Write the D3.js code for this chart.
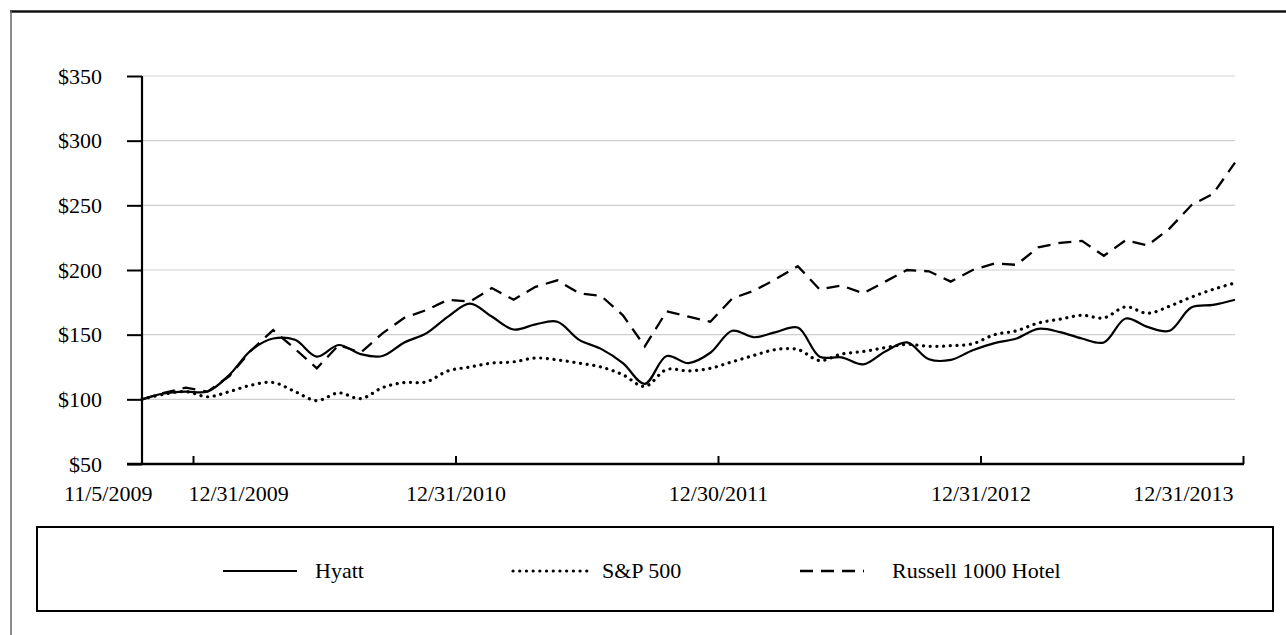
<!DOCTYPE html>
<html>
<head>
<meta charset="utf-8">
<script src="https://cdn.jsdelivr.net/npm/d3@7"></script>
<style>
  html, body { margin: 0; padding: 0; background: #fff; }
  svg { display: block; }
  text { font-family: "Liberation Serif", "Times New Roman", serif; fill: #000; }
</style>
</head>
<body>
<svg id="chart" width="1286" height="635"></svg>
<script>
// ---------- data ----------
const dates = [
  "2009-11-05","2009-11-30","2009-12-31",
  "2010-01-31","2010-02-28","2010-03-31","2010-04-30","2010-05-31","2010-06-30",
  "2010-07-31","2010-08-31","2010-09-30","2010-10-31","2010-11-30","2010-12-31",
  "2011-01-31","2011-02-28","2011-03-31","2011-04-30","2011-05-31","2011-06-30",
  "2011-07-31","2011-08-31","2011-09-30","2011-10-31","2011-11-30","2011-12-30",
  "2012-01-31","2012-02-29","2012-03-31","2012-04-30","2012-05-31","2012-06-30",
  "2012-07-31","2012-08-31","2012-09-30","2012-10-31","2012-11-30","2012-12-31",
  "2013-01-31","2013-02-28","2013-03-31","2013-04-30","2013-05-31","2013-06-30",
  "2013-07-31","2013-08-31","2013-09-30","2013-10-31","2013-11-30","2013-12-31"
];
const hyatt = [100,104.5,106,106,119,138,147,146,133,142,135,133.5,144,151,164,174,164,154,158,160,
  146,139,128,112,133.5,128,136,153,148,152,155.5,133,132.5,127,137,144,131,130.5,138,143.5,
  147,154.5,152,147,144,162.5,156,153,171,173,177];
const sp500 = [100,104,106,102,106,111,113,106,99,105,100.5,109,113,113.5,122,125,128,129,132,130.5,
  128,125,119,110,123,122,124,129,134,138.5,138.5,130,135,137,140,142.5,141,141.5,143,150,
  153,159,162,165,163,171.5,166.5,172,179,185,190];
const russell = [100,105,109,106,118,138,153.5,139,124,142,136,151,163,169,177,175.5,186,177,187,192,
  182,180,165,141,168,164,160,178,184,193,203,185,188,182,191,200,199,191,200,205,
  204,217.5,221,222.5,211,223,219,232,250,259,283];
const seriesNames = ["Hyatt", "S&P 500", "Russell 1000 Hotel"];
const yTicks = [50,100,150,200,250,300,350];
const xTickIndex = [0,2,14,26,38,50];
const xTickLabels = ["11/5/2009","12/31/2009","12/31/2010","12/30/2011","12/31/2012","12/31/2013"];

// ---------- layout ----------
const svg = d3.select("#chart");
const FS = 22;

// outer frame
svg.append("line").attr("x1",10).attr("x2",1286).attr("y1",11.5).attr("y2",11.5)
  .attr("stroke","#111").attr("stroke-width",2.5);
svg.append("line").attr("x1",11).attr("x2",11).attr("y1",11).attr("y2",635)
  .attr("stroke","#666").attr("stroke-width",1.5);

const x = d3.scaleLinear().domain([0, dates.length-1]).range([142, 1235]);
const xAx = d3.scaleLinear().domain([0, 2, 50]).range([142, 193, 1243]);
const y = d3.scaleLinear().domain([50, 350]).range([464, 76]);

// gridlines
svg.append("g").selectAll("line").data(yTicks.filter(d => d > 50)).join("line")
  .attr("x1", x(0)).attr("x2", x(dates.length-1))
  .attr("y1", d => y(d)).attr("y2", d => y(d))
  .attr("stroke","#cfcfcf").attr("stroke-width",1.2);

// y axis
const yAxis = svg.append("g").attr("transform",`translate(${x(0)},0)`)
  .call(d3.axisLeft(y).tickValues(yTicks).tickSize(15).tickPadding(25).tickFormat(d => "$" + d));
yAxis.select(".domain").remove();
yAxis.selectAll(".tick line").attr("stroke","#000").attr("stroke-width",2);
yAxis.selectAll("text").attr("font-size",FS).attr("font-family","Liberation Serif");
svg.append("line").attr("x1",x(0)).attr("x2",x(0)).attr("y1",y(350)).attr("y2",y(50))
  .attr("stroke","#000").attr("stroke-width",2.2);

// x axis
const xAxis = svg.append("g").attr("transform",`translate(0,${y(50)})`)
  .call(d3.axisBottom(xAx).tickValues(xTickIndex).tickSizeInner(-8).tickSizeOuter(0)
    .tickFormat((d,i) => xTickLabels[i]));
xAxis.select(".domain").remove();
xAxis.selectAll(".tick line").attr("stroke","#000").attr("stroke-width",2)
  .attr("display", d => d === 0 ? "none" : null);
xAxis.selectAll("text").attr("font-size",FS).attr("font-family","Liberation Serif")
  .attr("y",37).attr("dy",0)
  .attr("text-anchor",(d,i) => i === 0 ? "end" : (i === 1 ? "start" : (i === xTickIndex.length-1 ? "end" : "middle")))
  .attr("dx",(d,i) => i === 0 ? 10 : (i === 1 ? -5 : (i === xTickIndex.length-1 ? -10 : 0)));
svg.append("line").attr("x1",127).attr("x2",xAx(50)+1).attr("y1",y(50)).attr("y2",y(50))
  .attr("stroke","#000").attr("stroke-width",2.5);

// lines
const smooth = d3.line().x((d,i) => x(i)).y(d => y(d)).curve(d3.curveCatmullRom.alpha(0.5));
const straight = d3.line().x((d,i) => x(i)).y(d => y(d));

const styles = [
  {dash: null, width: 2.2, cap: "butt"},
  {dash: "0.1,6.6", width: 3.2, cap: "round"},
  {dash: "13,8", width: 2.3, cap: "butt"}
];

svg.append("path").datum(russell).attr("d", straight).attr("fill","none")
  .attr("stroke","#000").attr("stroke-width",styles[2].width).attr("stroke-dasharray",styles[2].dash);
svg.append("path").datum(sp500).attr("d", smooth).attr("fill","none")
  .attr("stroke","#000").attr("stroke-width",styles[1].width).attr("stroke-dasharray",styles[1].dash)
  .attr("stroke-linecap","round");
svg.append("path").datum(hyatt).attr("d", smooth).attr("fill","none")
  .attr("stroke","#000").attr("stroke-width",styles[0].width);

// legend
svg.append("rect").attr("x",37).attr("y",527).attr("width",1236).attr("height",84)
  .attr("fill","none").attr("stroke","#000").attr("stroke-width",2);
const legendItems = [
  {x1:223, x2:297, tx:315},
  {x1:513, x2:590, tx:602},
  {x1:800, x2:864, tx:892}
];
const ly = 571;
legendItems.forEach((it, i) => {
  svg.append("line").attr("x1",it.x1).attr("x2",it.x2).attr("y1",ly).attr("y2",ly)
    .attr("stroke","#000").attr("stroke-width",styles[i].width)
    .attr("stroke-dasharray",styles[i].dash).attr("stroke-linecap",styles[i].cap);
  svg.append("text").attr("x",it.tx).attr("y",ly+7).attr("font-size",FS).text(seriesNames[i]);
});
</script>
</body>
</html>
